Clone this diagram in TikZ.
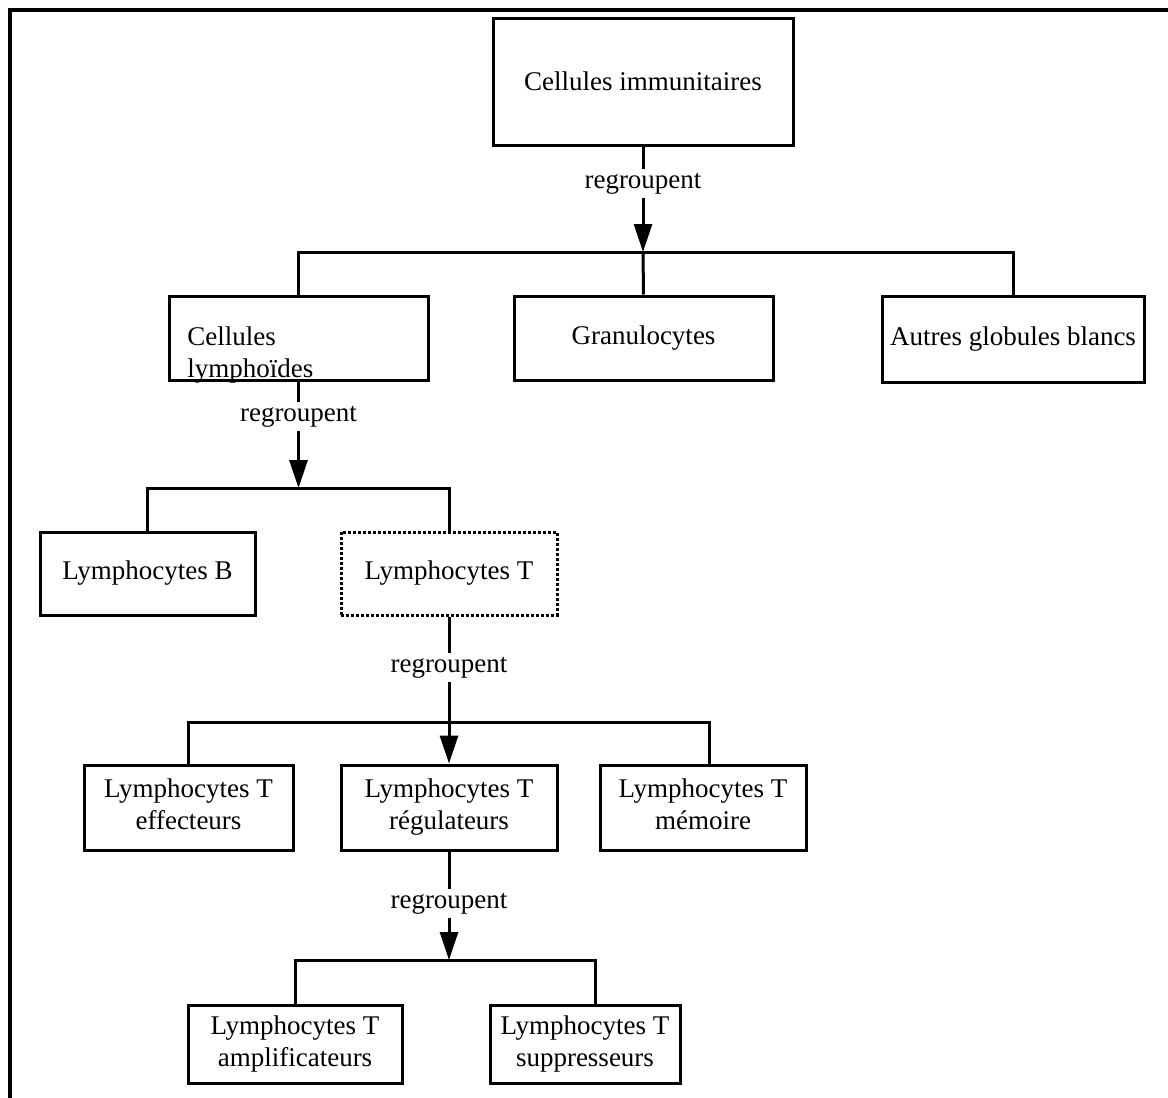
\documentclass[tikz,border=0pt]{standalone}
\usepackage{fontspec}
\setmainfont{Liberation Serif}
\usepackage{tikz}
\usetikzlibrary{arrows.meta,positioning}

\begin{document}
\begin{tikzpicture}[
  x=0.5pt, y=-0.5pt,
  font=\fontsize{13.5}{16}\selectfont,
  box/.style={draw, line width=1.5pt, minimum height=42pt, inner sep=0pt, align=center},
  arrow/.style={-{Triangle[length=14pt, width=9pt]}, line width=1.5pt},
  link/.style={line width=1.5pt},
  verb/.style={fill=white, inner sep=2pt}
]
\useasboundingbox (0,0) rectangle (1168,1098);
\draw[line width=2pt] (1168,10) -- (10,10) -- (10,1098);

% top
\node[box, minimum width=150pt, minimum height=63.5pt] (immun) at (643,81.5) {Cellules immunitaires};

% level 1
\node[box, minimum width=129.5pt] (lymph) at (298.5,338) {};
\node[anchor=north west, align=left, inner sep=0pt] (lymphtxt) at (187,326.5) {Cellules\\lymphoïdes};
\node[box, minimum width=129.5pt] (granu) at (643.5,338) {Granulocytes};
\node[box, minimum width=131pt, minimum height=43pt] (autres) at (1013,339) {Autres globules blancs};

% level 2
\node[box, minimum width=107.5pt, minimum height=41.5pt] (lymphB) at (147.5,573.5) {Lymphocytes B};
\node[box, densely dotted, minimum width=108pt, minimum height=41.5pt] (lymphT) at (449,573.5) {Lymphocytes T};

% level 3
\node[box, text depth=3pt, minimum width=104.5pt, minimum height=42.5pt] (effect) at (188.5,807.5) {Lymphocytes T\\effecteurs};
\node[box, text depth=3pt, minimum width=108pt, minimum height=42.5pt] (regul) at (449,807.5) {Lymphocytes T\\régulateurs};
\node[box, text depth=3pt, minimum width=103pt, minimum height=42.5pt] (memoire) at (703,807.5) {Lymphocytes T\\mémoire};

% level 4
\node[box, minimum width=107pt, minimum height=39pt] (ampli) at (295,1044) {Lymphocytes T\\amplificateurs};
\node[box, minimum width=95pt, minimum height=39pt] (suppr) at (585,1044) {Lymphocytes T\\suppresseurs};

% junctions
\coordinate (j1) at (643,252);
\coordinate (j2) at (298.5,488);
\coordinate (j3) at (449,722);
\coordinate (j4) at (449,960);

\draw[link] (lymph.north) |- (j1) -| (autres.north);
\draw[link] (j1) -- (granu.north);
\draw[arrow] (immun) -- node[verb, pos=0.35] {regroupent} (j1);

\draw[link] (lymphB.north) |- (j2) -| (lymphT.north);
\draw[arrow] (lymph) -- node[verb, pos=0.33] {regroupent} (j2);

\draw[link] (effect.north) |- (j3) -| ([xshift=3pt]memoire.north);
\draw[arrow] (lymphT) -- node[verb, pos=0.35] {regroupent} (regul);

\draw[link] (ampli.north) |- (j4) -| ([xshift=5pt]suppr.north);
\draw[arrow] (regul) -- node[verb, pos=0.48] {regroupent} (j4);
\end{tikzpicture}
\end{document}
